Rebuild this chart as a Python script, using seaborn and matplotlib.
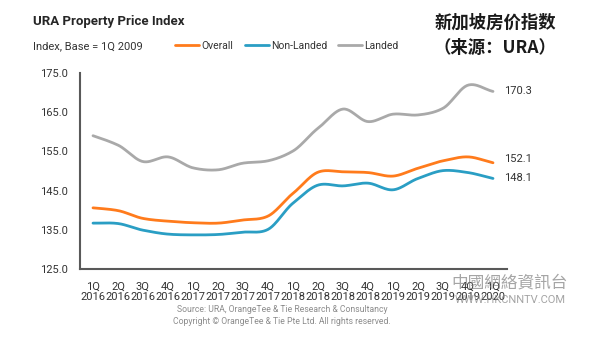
import numpy as np
import pandas as pd
import matplotlib
matplotlib.use("Agg")
import matplotlib.pyplot as plt
import seaborn as sns

# URA property price index (base 1Q 2009 = 100), quarterly
quarters = ["1Q\n2016", "2Q\n2016", "3Q\n2016", "4Q\n2016",
            "1Q\n2017", "2Q\n2017", "3Q\n2017", "4Q\n2017",
            "1Q\n2018", "2Q\n2018", "3Q\n2018", "4Q\n2018",
            "1Q\n2019", "2Q\n2019", "3Q\n2019", "4Q\n2019",
            "1Q\n2020"]
overall = [140.6, 139.9, 137.9, 137.2, 136.8, 136.7, 137.5, 138.5,
           144.3, 149.7, 149.8, 149.6, 148.7, 150.7, 152.6, 153.6, 152.1]
non_landed = [136.7, 136.6, 134.9, 133.9, 133.7, 133.8, 134.4, 135.1,
              141.8, 146.4, 146.2, 146.9, 145.2, 148.1, 150.1, 149.6, 148.1]
landed = [159.0, 156.6, 152.4, 153.6, 150.8, 150.3, 152.0, 152.6,
          155.1, 160.9, 165.8, 162.6, 164.5, 164.3, 166.0, 171.9, 170.3]

series_names = ["Overall", "Non-Landed", "Landed"]
series_values = [overall, non_landed, landed]
colors = {"Overall": "#FF7B1C", "Non-Landed": "#2A9EC4", "Landed": "#A9A9A9"}


def smooth_curve(values, steps=24):
    """Cubic Hermite (Catmull-Rom style) curve through the quarterly values."""
    y = np.asarray(values, dtype=float)
    m = np.gradient(y) * 0.9
    xs, ys = [], []
    for i in range(len(y) - 1):
        t = np.linspace(0, 1, steps, endpoint=False)
        h00 = 2 * t**3 - 3 * t**2 + 1
        h10 = t**3 - 2 * t**2 + t
        h01 = -2 * t**3 + 3 * t**2
        h11 = t**3 - t**2
        xs.append(i + t)
        ys.append(h00 * y[i] + h10 * m[i] + h01 * y[i + 1] + h11 * m[i + 1])
    xs.append([len(y) - 1])
    ys.append([y[-1]])
    return np.concatenate(xs), np.concatenate(ys)


frames = []
for name, vals in zip(series_names, series_values):
    sx, sy = smooth_curve(vals)
    frames.append(pd.DataFrame({"x": sx, "value": sy, "series": name}))
df = pd.concat(frames, ignore_index=True)

sns.set_theme(style="white")
plt.rcParams["font.family"] = ["Roboto", "DejaVu Sans"]

fig = plt.figure(figsize=(6.0, 3.37), dpi=100)
ax = fig.add_axes([80 / 600, 1 - 269 / 337, 427 / 600, 196 / 337])

sns.lineplot(data=df, x="x", y="value", hue="series", hue_order=series_names,
             palette=colors, linewidth=2.0, sort=False, ax=ax, legend=True)

ax.set_xlim(-0.52, 16.56)
ax.set_ylim(125, 175)
ax.set_yticks(np.arange(125, 176, 10))
ax.set_yticklabels([f"{v:.1f}" for v in np.arange(125, 176, 10)])
ax.set_xticks(range(len(quarters)))
ax.set_xticklabels(quarters, linespacing=1.05)
ax.set_xlabel("")
ax.set_ylabel("")
ax.tick_params(axis="both", length=0, labelsize=8, colors="#333333")
ax.tick_params(axis="y", pad=9)
ax.tick_params(axis="x", pad=9)
for side in ("top", "right"):
    ax.spines[side].set_visible(False)
for side in ("left", "bottom"):
    ax.spines[side].set_color("#595959")
    ax.spines[side].set_linewidth(1.5)

# end-of-line value labels
end_offsets = {"Overall": 3, "Non-Landed": 0, "Landed": 0}
for name, vals in zip(series_names, series_values):
    ax.annotate(f"{vals[-1]:.1f}", xy=(len(vals) - 1, vals[-1]),
                xytext=(8, end_offsets[name]), textcoords="offset points",
                ha="left", va="center", fontsize=8, color="#333333",
                annotation_clip=False)

# legend along the top
handles, labels = ax.get_legend_handles_labels()
ax.get_legend().remove()
fig.legend(handles, labels, loc="center left",
           bbox_to_anchor=(170 / 600, 1 - 46 / 337), ncol=3, frameon=False,
           fontsize=7.5, handlelength=2.3, handletextpad=0.2,
           columnspacing=1.1, borderpad=0, labelcolor="#333333")

fig.text(33 / 600, 1 - 22 / 337, "URA Property Price Index", fontsize=9.5,
         fontweight="bold", color="#262626", ha="left", va="center")
fig.text(33 / 600, 1 - 46 / 337, "Index, Base = 1Q 2009", fontsize=8,
         color="#333333", ha="left", va="center")

fig.text(495 / 600, 1 - 23 / 337, "新加坡房价指数", fontsize=12.5,
         fontweight="bold", color="#1a1a1a", ha="center", va="center",
         family=["Noto Sans CJK SC", "DejaVu Sans"])
fig.text(495 / 600, 1 - 48 / 337, "（来源：URA）", fontsize=12.5,
         fontweight="bold", color="#1a1a1a", ha="center", va="center",
         family=["Noto Sans CJK SC", "DejaVu Sans"])

fig.text(282 / 600, 1 - 310 / 337,
         "Source: URA, OrangeTee & Tie Research & Consultancy",
         fontsize=6.2, color="#8c8c8c", ha="center", va="center")
fig.text(282 / 600, 1 - 321 / 337,
         "Copyright © OrangeTee & Tie Pte Ltd. All rights reserved.",
         fontsize=6.2, color="#8c8c8c", ha="center", va="center")

# site watermark
fig.text(510 / 600, 1 - 283 / 337, "中國網絡資訊台", fontsize=12,
         color="#7f7f7f", alpha=0.7, ha="center", va="center",
         family=["Noto Sans CJK TC", "DejaVu Sans"])
fig.text(510 / 600, 1 - 300 / 337, "WWW.HKCNNTV.COM", fontsize=8,
         color="#7f7f7f", alpha=0.7, ha="center", va="center")

fig.savefig("out.png", dpi=100, facecolor="white")
